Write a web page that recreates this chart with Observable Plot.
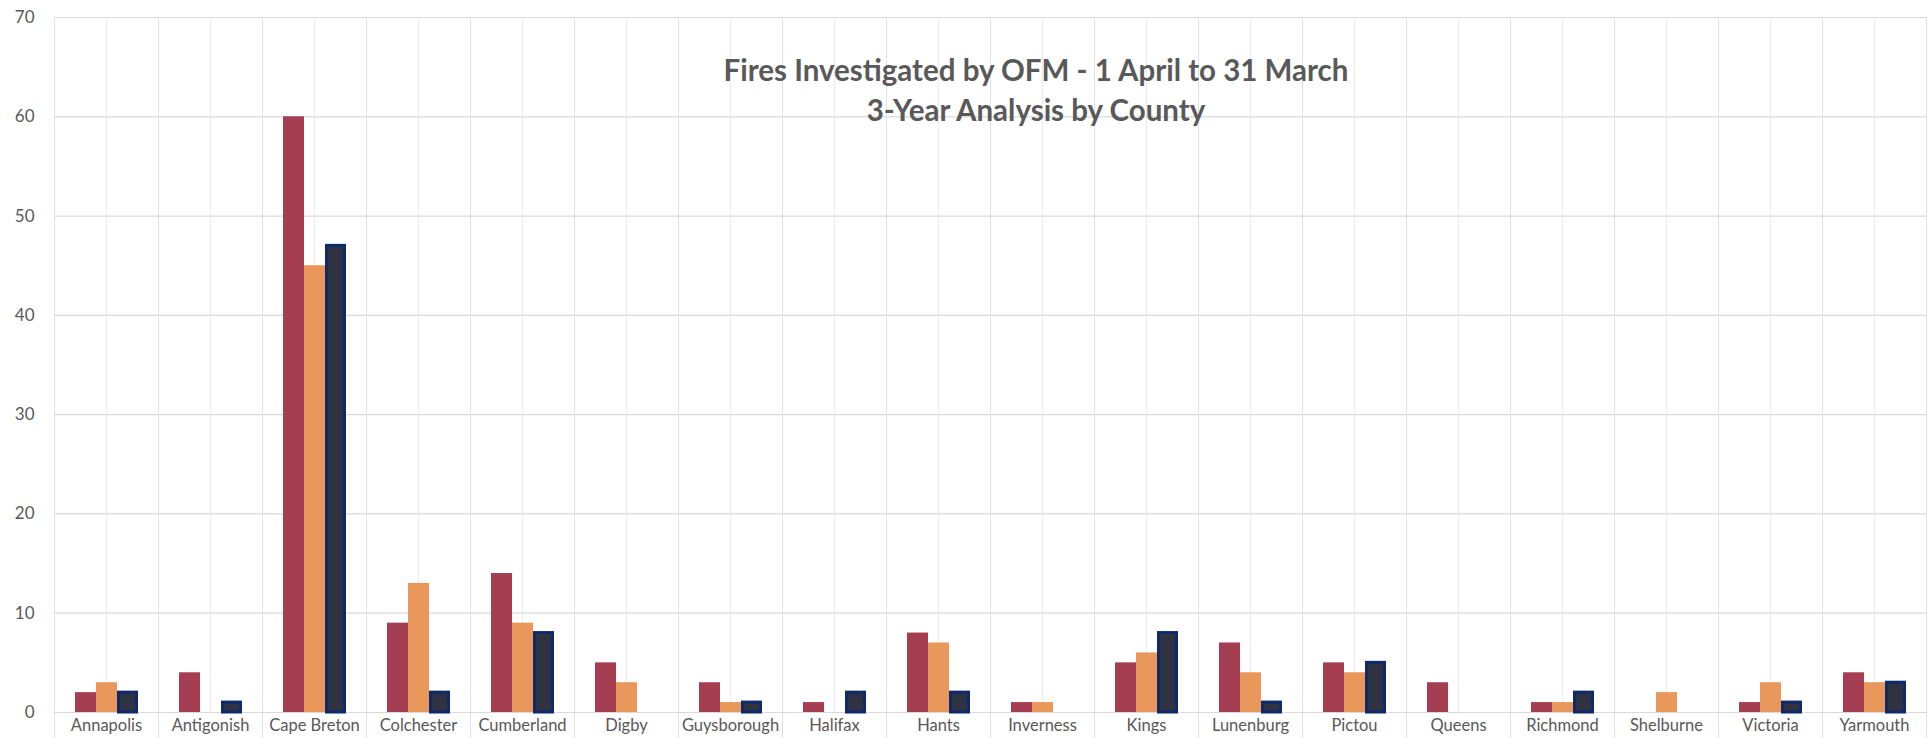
<!DOCTYPE html>
<html><head><meta charset="utf-8">
<script src="https://cdn.jsdelivr.net/npm/d3@7"></script>
<script src="https://cdn.jsdelivr.net/npm/@observablehq/plot@0.6"></script>
<style>
body{margin:0;background:#fff;}
#wrap{position:relative;width:1930px;height:738px;overflow:hidden;}
#title{position:absolute;left:536px;width:1000px;top:50px;text-align:center;font-family:Lato,sans-serif;font-weight:bold;font-size:29.5px;color:#595959;line-height:40px;pointer-events:none;}
</style></head><body>
<div id="wrap"><div id="title">Fires Investigated by OFM - 1 April to 31 March<br>3-Year Analysis by County</div></div>
<script>
const counties = ["Annapolis","Antigonish","Cape Breton","Colchester","Cumberland","Digby","Guysborough","Halifax","Hants","Inverness","Kings","Lunenburg","Pictou","Queens","Richmond","Shelburne","Victoria","Yarmouth"];
const years = ["Year 1","Year 2","Year 3"];
const year1 = [2,4,60,9,14,5,3,1,8,1,5,7,5,3,1,0,1,4];
const year2 = [3,0,45,13,9,3,1,0,7,1,6,4,4,0,1,2,3,3];
const year3 = [2,1,47,2,8,0,1,2,2,0,8,1,5,0,2,0,1,3];
const yTicks = [0,10,20,30,40,50,60,70];
const colors = ["#A43E50","#E9975A","#2E3241"];

const series = [year1, year2, year3];
const data = counties.flatMap((c, i) => series.map((s, j) => ({county: c, year: years[j], value: s[i]})))
  .filter(d => d.value > 0);
const lastYear = years[2];

const chart = Plot.plot({
  width: 1930, height: 738,
  marginLeft: 53, marginRight: 4, marginTop: 17, marginBottom: 26,
  style: {fontFamily: "Lato, sans-serif", color: "#595959", background: "transparent", overflow: "visible"},
  fx: {domain: counties, padding: 0, label: null},
  x: {domain: years, paddingInner: 0, paddingOuter: 0.9, axis: null},
  y: {domain: [0, 70], label: null},
  color: {domain: years, range: colors},
  marks: [
    Plot.gridY(yTicks, {stroke: "#d9d9d9", strokeOpacity: 1, strokeWidth: 1.2}),
    Plot.gridFx({stroke: "#ececec", strokeOpacity: 1}),
    Plot.frame({anchor: "left", stroke: "#e2e2e2", insetBottom: -30}),
    Plot.frame({anchor: "right", stroke: "#e2e2e2", insetBottom: -30}),
    Plot.ruleY([0], {stroke: "#d9d9d9", strokeWidth: 1.2}),
    Plot.barY(data.filter(d => d.year !== lastYear), {fx: "county", x: "year", y: "value", fill: "year"}),
    Plot.barY(data.filter(d => d.year === lastYear), {fx: "county", x: "year", y: "value", fill: "year", stroke: "#0D2A6B", strokeWidth: 3, insetLeft: 1.5, insetRight: 1.5}),
    Plot.axisY(yTicks, {tickSize: 0, tickPadding: 20, fontSize: 17, label: null}),
    Plot.axisFx({anchor: "bottom", tickSize: 0, tickPadding: 7, fontSize: 16.5, label: null})
  ]
});
document.getElementById("wrap").prepend(chart);
</script>
</body></html>
